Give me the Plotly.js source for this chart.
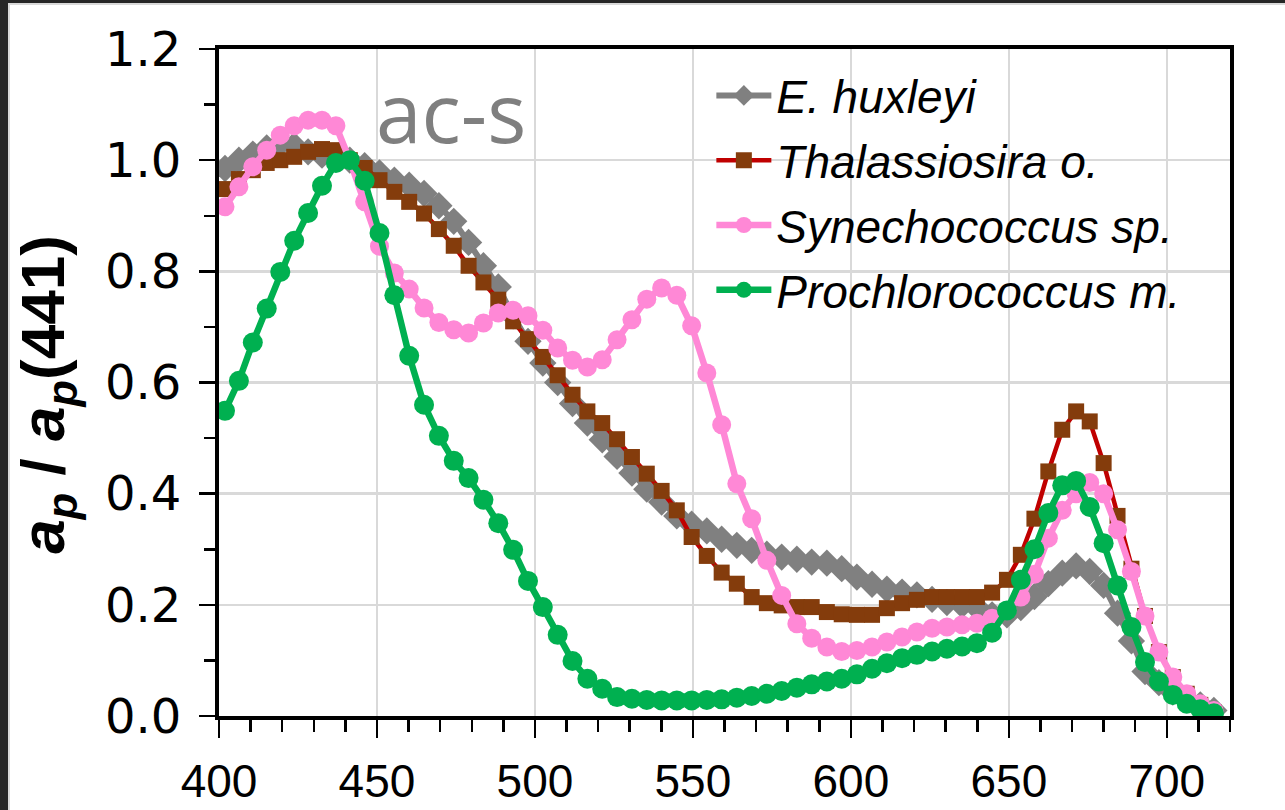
<!DOCTYPE html>
<html>
<head>
<meta charset="utf-8">
<script src="https://cdn.plot.ly/plotly-3.0.1.min.js"></script>
<style>
  html, body { margin: 0; padding: 0; background: #262626; width: 1285px; height: 810px; overflow: hidden; }
  #frame { position: absolute; left: 8px; top: 3px; width: 1277px; height: 807px; background: #d9d9d9; }
  #chart { position: absolute; left: 10px; top: 5px; width: 1275px; height: 805px; background: #ffffff; }
</style>
</head>
<body>
<div id="frame"></div>
<div id="chart"></div>
<script>
// Wavelengths (nm)
const wavelength = [401.9, 406.3, 410.7, 415.1, 419.4, 423.8, 428.2, 432.6, 437.0, 441.4,
  446.1, 450.8, 455.5, 460.2, 464.9, 469.6, 474.3, 479.0, 483.7, 488.4,
  493.1, 497.8, 502.5, 507.2, 511.9, 516.6, 521.3, 526.0, 530.7, 535.4,
  540.1, 544.9, 549.6, 554.4, 559.1, 563.9, 568.6, 573.4, 578.1, 582.9,
  587.6, 592.4, 597.1, 601.9, 606.7, 611.4, 616.2, 620.9, 625.7, 630.4,
  635.2, 639.9, 644.7, 649.4, 653.8, 658.1, 662.5, 666.9, 671.3, 675.6,
  680.0, 684.4, 688.8, 693.1, 697.5, 701.9, 706.3, 710.6, 714.9];

const eHuxleyi = [0.985, 1.000, 1.011, 1.022, 1.030, 1.026, 1.015, 1.009, 1.004, 1.000,
  0.990, 0.977, 0.964, 0.955, 0.940, 0.918, 0.890, 0.852, 0.810, 0.772,
  0.720, 0.674, 0.635, 0.600, 0.562, 0.527, 0.497, 0.467, 0.437, 0.408,
  0.385, 0.360, 0.345, 0.333, 0.318, 0.307, 0.298, 0.291, 0.286, 0.282,
  0.277, 0.275, 0.265, 0.250, 0.237, 0.228, 0.223, 0.218, 0.210, 0.204,
  0.200, 0.195, 0.182, 0.182, 0.195, 0.215, 0.238, 0.257, 0.270, 0.260,
  0.235, 0.185, 0.135, 0.080, 0.060, 0.043, 0.030, 0.020, 0.010];

const thalassiosira = [0.948, 0.966, 0.982, 0.995, 1.000, 1.006, 1.015, 1.020, 1.018, 1.000,
  0.986, 0.964, 0.943, 0.925, 0.904, 0.876, 0.846, 0.810, 0.780, 0.749,
  0.710, 0.678, 0.646, 0.613, 0.578, 0.548, 0.527, 0.498, 0.466, 0.436,
  0.405, 0.370, 0.322, 0.288, 0.258, 0.238, 0.214, 0.203, 0.199, 0.196,
  0.196, 0.187, 0.183, 0.182, 0.182, 0.194, 0.203, 0.209, 0.214, 0.214,
  0.214, 0.214, 0.222, 0.245, 0.290, 0.355, 0.440, 0.515, 0.548, 0.530,
  0.455, 0.360, 0.265, 0.180, 0.115, 0.070, 0.040, 0.020, 0.006];

const synechococcus = [0.916, 0.952, 0.988, 1.018, 1.045, 1.062, 1.072, 1.072, 1.062, 1.000,
  0.925, 0.845, 0.797, 0.768, 0.734, 0.708, 0.695, 0.689, 0.707, 0.725,
  0.730, 0.720, 0.694, 0.662, 0.640, 0.628, 0.641, 0.677, 0.713, 0.750,
  0.770, 0.757, 0.702, 0.617, 0.524, 0.418, 0.355, 0.280, 0.217, 0.166,
  0.140, 0.124, 0.116, 0.118, 0.124, 0.133, 0.142, 0.151, 0.158, 0.160,
  0.164, 0.167, 0.176, 0.190, 0.214, 0.255, 0.320, 0.370, 0.400, 0.420,
  0.400, 0.335, 0.260, 0.180, 0.115, 0.070, 0.040, 0.022, 0.010];

const prochlorococcus = [0.549, 0.603, 0.672, 0.733, 0.799, 0.855, 0.905, 0.954, 0.995, 1.000,
  0.963, 0.869, 0.757, 0.648, 0.560, 0.504, 0.459, 0.428, 0.389, 0.347,
  0.299, 0.243, 0.196, 0.146, 0.099, 0.067, 0.049, 0.034, 0.031, 0.029,
  0.028, 0.028, 0.028, 0.029, 0.030, 0.033, 0.036, 0.040, 0.045, 0.051,
  0.057, 0.062, 0.067, 0.075, 0.085, 0.095, 0.104, 0.110, 0.116, 0.121,
  0.125, 0.131, 0.150, 0.190, 0.245, 0.300, 0.365, 0.415, 0.423, 0.376,
  0.311, 0.235, 0.160, 0.097, 0.062, 0.038, 0.022, 0.012, 0.005];

const seriesNames = ['E. huxleyi', 'Thalassiosira o.', 'Synechococcus sp.', 'Prochlorococcus m.'];
const xTickVals = [400, 450, 500, 550, 600, 650, 700];
const yTickVals = [0.0, 0.2, 0.4, 0.6, 0.8, 1.0, 1.2];
const yTickText = ['0.0', '0.2', '0.4', '0.6', '0.8', '1.0', '1.2'];
const yTitle = '<b><i>a</i><sub><i>p</i></sub> / <i>a</i><sub><i>p</i></sub>(441)</b>';
const panelLabel = 'ac-s';

const traces = [
  { x: wavelength, y: eHuxleyi, name: '<i>' + seriesNames[0] + '</i>', legendgroup: 'g1',
    mode: 'lines+markers', line: { color: '#808080', width: 6 },
    marker: { symbol: 'diamond', size: 21, color: '#808080' } },
  { x: wavelength, y: thalassiosira, name: '<i>' + seriesNames[1] + '</i>', legendgroup: 'g2',
    mode: 'lines+markers', line: { color: '#C00000', width: 4.5 },
    marker: { symbol: 'square', size: 16, color: '#843C0C' } },
  { x: wavelength, y: synechococcus, name: '<i>' + seriesNames[2] + '</i>', legendgroup: 'g3',
    mode: 'lines+markers', line: { color: '#FF88D6', width: 6.5 },
    marker: { symbol: 'circle', size: 19, color: '#FF88D6' } },
  { x: wavelength, y: prochlorococcus, name: '<i>' + seriesNames[3] + '</i>', legendgroup: 'g4',
    mode: 'lines+markers', line: { color: '#00B050', width: 6.5 },
    marker: { symbol: 'circle', size: 20, color: '#00B050' } }
];

const layout = {
  width: 1275, height: 805,
  margin: { l: 209, r: 55, t: 44, b: 94 },
  paper_bgcolor: '#ffffff', plot_bgcolor: '#ffffff',
  showlegend: true,
  legend: {
    x: 0.487, xanchor: 'left', y: 0.985, yanchor: 'top',
    bgcolor: 'rgba(0,0,0,0)', borderwidth: 0,
    font: { family: 'Liberation Sans, Arial, sans-serif', size: 46, color: '#000000' },
    tracegroupgap: 2, itemwidth: 55, itemsizing: 'trace'
  },
  xaxis: {
    range: [400, 720], tickmode: 'array', tickvals: xTickVals,
    ticks: 'outside', ticklen: 18, tickwidth: 2.5, tickcolor: '#000000',
    showline: true, linecolor: '#000000', linewidth: 4, mirror: true,
    showgrid: true, gridcolor: '#d9d9d9', gridwidth: 2.5, zeroline: false,
    tickfont: { family: 'Liberation Sans, Arial, sans-serif', size: 46, color: '#000000' },
    ticklabelstandoff: 4,
    minor: { dtick: 10, tick0: 400, ticks: 'outside', ticklen: 12, tickwidth: 2.5, tickcolor: '#000000', showgrid: false }
  },
  yaxis: {
    range: [0, 1.2], tickmode: 'array', tickvals: yTickVals, ticktext: yTickText,
    ticks: 'outside', ticklen: 16, tickwidth: 2.5, tickcolor: '#000000',
    showline: true, linecolor: '#000000', linewidth: 4, mirror: true,
    showgrid: true, gridcolor: '#d9d9d9', gridwidth: 2.5, zeroline: false,
    tickfont: { family: 'DejaVu Sans, sans-serif', size: 48, color: '#000000' },
    ticklabelstandoff: 8,
    minor: { dtick: 0.1, tick0: 0, ticks: 'outside', ticklen: 11, tickwidth: 2.5, tickcolor: '#000000', showgrid: false }
  },
  annotations: [
    { text: yTitle, xref: 'paper', yref: 'paper', x: -0.171, y: 0.482, xanchor: 'center', yanchor: 'middle',
      textangle: -90, showarrow: false,
      font: { family: 'Liberation Sans, Arial, sans-serif', size: 62, color: '#000000' } },
    { text: panelLabel, xref: 'x', yref: 'y', x: 449, y: 1.088, xanchor: 'left', yanchor: 'middle',
      showarrow: false, font: { family: 'Open Sans, sans-serif', size: 82, color: '#7f7f7f' } }
  ]
};

Plotly.newPlot('chart', traces, layout, { displayModeBar: false, staticPlot: true });
</script>
</body>
</html>
